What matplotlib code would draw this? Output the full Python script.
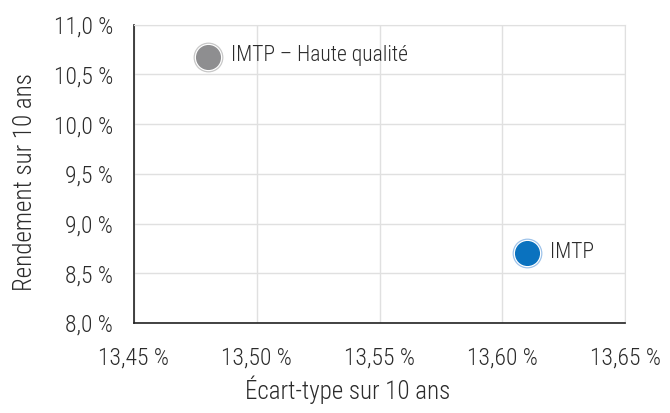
import matplotlib
matplotlib.use("Agg")
import matplotlib.pyplot as plt
from matplotlib.ticker import FuncFormatter
from matplotlib import font_manager

# données
noms = ["IMTP – Haute qualité", "IMTP"]
ecart_type = [13.48, 13.61]
rendement = [10.68, 8.70]
couleurs = ["#8e8e90", "#0a72bf"]
contours = ["#c8c8c8", "#9ec3ea"]

xticks = [13.45, 13.50, 13.55, 13.60, 13.65]
yticks = [8.0, 8.5, 9.0, 9.5, 10.0, 10.5, 11.0]

installed = {f.name for f in font_manager.fontManager.ttflist}
famille = [f for f in ['Roboto Condensed', 'Liberation Sans Narrow', 'Open Sans Condensed',
                       'Liberation Sans'] if f in installed] + ['DejaVu Sans']
plt.rcParams['font.family'] = famille
plt.rcParams['font.weight'] = 'light'
txt = "#2b2b2b"

fig, ax = plt.subplots(figsize=(6.7, 4.13), dpi=100)
fig.subplots_adjust(left=0.2, right=0.933, top=0.94, bottom=0.218)

for x, y, c, e, n in zip(ecart_type, rendement, couleurs, contours, noms):
    ax.scatter(x, y, s=420, color=e, zorder=3)
    ax.scatter(x, y, s=350, color="white", zorder=3)
    ax.scatter(x, y, s=290, color=c, zorder=4)
    ax.annotate(n, (x, y), xytext=(17, 1), textcoords="offset points",
                va="center", ha="left", fontsize=15.5, color=txt, fontweight='light')

ax.set_xlim(13.45, 13.65)
ax.set_ylim(8.0, 11.0)
ax.set_xticks(xticks)
ax.set_yticks(yticks)
ax.xaxis.set_major_formatter(FuncFormatter(lambda v, p: f"{v:.2f} %".replace(".", ",")))
ax.yaxis.set_major_formatter(FuncFormatter(lambda v, p: f"{v:.1f} %".replace(".", ",")))
ax.tick_params(length=0, labelsize=17, labelcolor=txt)
ax.tick_params(axis="x", pad=17)
ax.tick_params(axis="y", pad=15)
ax.grid(True, color="#e0e0e0", lw=1)
ax.set_axisbelow(True)
for s in ["top", "right"]:
    ax.spines[s].set_color("#e0e0e0")
for s in ["left", "bottom"]:
    ax.spines[s].set_color("#222222")
    ax.spines[s].set_linewidth(1.2)

ax.set_xlabel("Écart-type sur 10 ans", fontsize=18, color=txt, fontweight='light')
ax.set_ylabel("Rendement sur 10 ans", fontsize=18, color=txt, labelpad=12, fontweight='light')
ax.xaxis.set_label_coords(0.434, -0.175)
ax.yaxis.label.set_y(0.473)

fig.savefig("out.png")
